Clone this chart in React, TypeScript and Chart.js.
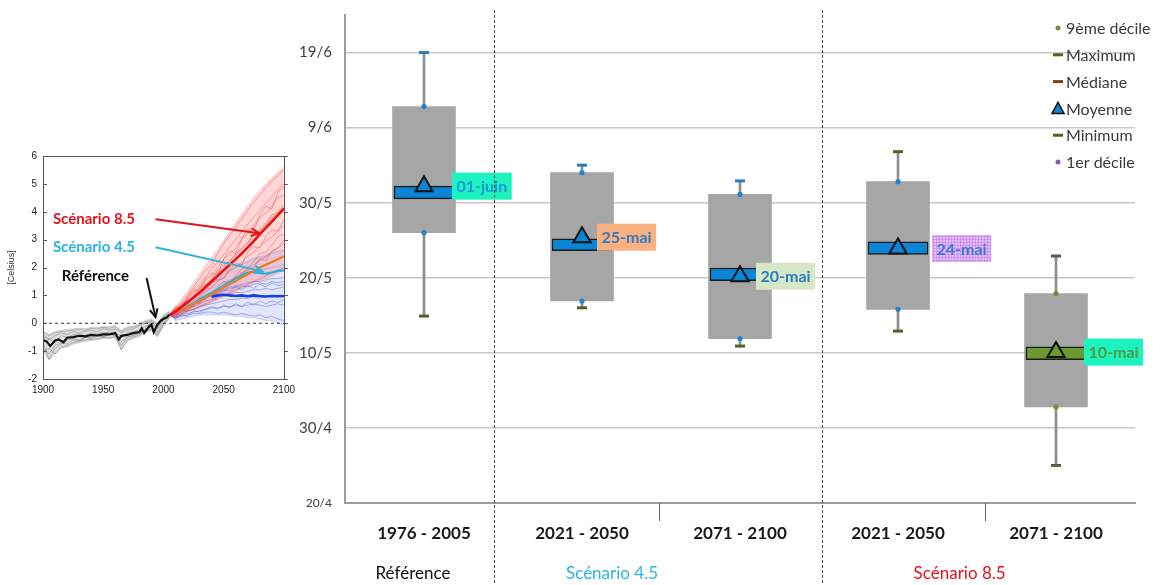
import React, { useEffect, useRef } from 'react';
import { Chart, registerables } from 'chart.js';

Chart.register(...registerables);

const FONT = 'Lato, "Open Sans", "Liberation Sans", sans-serif';

// ================= MAIN BOX CHART DATA =================
const categories = ['1976 - 2005', '2021 - 2050', '2071 - 2100', '2021 - 2050', '2071 - 2100'];
const groupNames = ['Référence', 'Scénario 4.5', 'Scénario 8.5'];
const groupColors = ['#111111', '#2bb5de', '#e2141b'];
const groupCenters = [-0.07, 1.19, 3.39]; // category units

// values as day of year
const minimum = [134.9, 136.0, 130.9, 132.9, 115.0];
const decile1 = [146.0, 136.9, 131.9, 135.8, 122.8];
const medianLow = [150.5, 143.6, 139.6, 143.1, 129.1];
const medianHigh = [152.2, 145.2, 141.3, 144.8, 130.8];
const mean = [152.2, 145.4, 140.2, 143.9, 130.1];
const decile9 = [162.8, 154.0, 151.1, 152.8, 137.9];
const maximum = [170.0, 155.0, 152.9, 156.8, 142.9];
const meanLabels = ['01-juin', '25-mai', '20-mai', '24-mai', '10-mai'];

const yTickValues = [110, 120, 130, 140, 150, 160, 170];
const yTickLabels = ['20/4', '30/4', '10/5', '20/5', '30/5', '9/6', '19/6'];

const bandColors = ['#0b86d6', '#0b86d6', '#0b86d6', '#0b86d6', '#6b9a31'];
const decileColors = ['#1f86cc', '#1f86cc', '#1f86cc', '#1f86cc', '#6f8f3a'];
const maxCapColors = ['#2a7cc0', '#2a7cc0', '#2a7cc0', '#4f6228', '#5a6040'];
const minCapColors = ['#4f6228', '#4f6228', '#4f6228', '#4f6228', '#5a6040'];
const labelBg = ['#1df2c1', '#fbb17f', '#d7e8c6', '#e4bdf7', '#1df2c1'];
const labelFg = ['#1f9ad6', '#2a7cc4', '#2a7cc4', '#3a7ad2', '#4f9a3a'];
const labelOffsets = [28, 15, 16, 34, 28];

const legendTexts = ['9ème décile', 'Maximum', 'Médiane', 'Moyenne', 'Minimum', '1er décile'];
const legendKinds = ['dot', 'dash', 'dash', 'tri', 'dash', 'dot'];
const legendColors = ['#76923c', '#4f6228', '#7f3f18', '#0b86d6', '#4f6228', '#8064a2'];

// ================= INSET DATA =================
const histYears = [1900, 1905, 1910, 1915, 1920, 1925, 1930, 1935, 1940, 1945, 1950, 1955, 1960, 1965, 1970, 1975, 1980, 1985, 1990, 1995, 2000, 2005];
const futYears = [2005, 2010, 2015, 2020, 2025, 2030, 2035, 2040, 2045, 2050, 2055, 2060, 2065, 2070, 2075, 2080, 2085, 2090, 2095, 2100];

const grayHi = [-0.3, -0.4, -0.3, -0.25, -0.22, -0.2, -0.18, -0.2, -0.15, -0.15, -0.12, -0.12, -0.1, -0.25, -0.12, -0.1, 0.0, 0.1, 0.15, 0.0, 0.3, 0.45];
const grayLo = [-1.0, -1.3, -1.1, -0.9, -0.85, -0.75, -0.7, -0.65, -0.62, -0.6, -0.55, -0.55, -0.52, -0.95, -0.65, -0.55, -0.48, -0.35, -0.25, -0.5, -0.1, 0.15];
const redHi = [0.3, 0.6, 0.85, 1.15, 1.45, 1.75, 2.05, 2.35, 2.65, 2.95, 3.3, 3.6, 3.9, 4.2, 4.5, 4.75, 5.0, 5.2, 5.4, 5.6];
const redLo = [0.3, 0.2, 0.3, 0.4, 0.48, 0.56, 0.65, 0.75, 0.85, 0.95, 1.05, 1.15, 1.25, 1.35, 1.45, 1.55, 1.6, 1.7, 1.8, 1.9];
const blueHi = [0.3, 0.5, 0.65, 0.85, 1.0, 1.15, 1.35, 1.5, 1.65, 1.8, 1.95, 2.05, 2.15, 2.25, 2.35, 2.4, 2.45, 2.55, 2.6, 2.65];
const blueLo = [0.3, 0.1, 0.15, 0.2, 0.25, 0.3, 0.3, 0.3, 0.3, 0.3, 0.3, 0.25, 0.25, 0.2, 0.2, 0.15, 0.1, 0.1, 0.0, -0.05];

const grayRuns = [
  [-0.9, -1.1, -0.8, -0.7, -0.75, -0.6, -0.65, -0.5, -0.55, -0.45, -0.5, -0.4, -0.45, -0.8, -0.5, -0.45, -0.35, -0.25, -0.1, -0.4, 0.0, 0.25],
  [-0.4, -0.6, -0.45, -0.35, -0.4, -0.3, -0.35, -0.3, -0.25, -0.3, -0.2, -0.25, -0.2, -0.35, -0.25, -0.2, -0.1, 0.0, 0.05, -0.15, 0.2, 0.35],
  [-0.7, -1.3, -0.9, -0.75, -0.6, -0.55, -0.6, -0.5, -0.5, -0.42, -0.48, -0.38, -0.42, -0.65, -0.52, -0.4, -0.38, -0.2, -0.15, -0.3, 0.1, 0.3],
  [-0.5, -0.55, -0.7, -0.45, -0.5, -0.42, -0.38, -0.45, -0.35, -0.38, -0.32, -0.35, -0.3, -0.5, -0.35, -0.3, -0.25, -0.12, 0.0, -0.2, 0.18, 0.32],
  [-1.0, -0.9, -1.1, -0.85, -0.8, -0.7, -0.62, -0.6, -0.58, -0.55, -0.5, -0.52, -0.48, -0.95, -0.6, -0.5, -0.42, -0.3, -0.2, -0.45, -0.05, 0.2],
  [-0.3, -0.45, -0.35, -0.3, -0.28, -0.25, -0.22, -0.25, -0.18, -0.2, -0.15, -0.18, -0.12, -0.3, -0.18, -0.15, -0.05, 0.05, 0.1, -0.05, 0.25, 0.4],
];

const redRuns = [
  [0.3, 0.5, 0.75, 1.0, 1.3, 1.6, 1.9, 2.1, 2.5, 2.85, 3.15, 3.45, 3.75, 4.05, 4.35, 4.6, 4.85, 5.1, 5.3, 5.5],
  [0.3, 0.45, 0.65, 0.9, 1.15, 1.4, 1.65, 1.95, 2.2, 2.45, 2.75, 3.0, 3.3, 3.55, 3.8, 4.05, 4.3, 4.55, 4.8, 5.0],
  [0.3, 0.4, 0.55, 0.75, 0.95, 1.15, 1.35, 1.6, 1.8, 2.0, 2.25, 2.45, 2.7, 2.9, 3.15, 3.35, 3.6, 3.8, 4.0, 4.25],
  [0.3, 0.35, 0.5, 0.65, 0.8, 0.95, 1.15, 1.3, 1.5, 1.65, 1.85, 2.0, 2.2, 2.4, 2.55, 2.75, 2.95, 3.1, 3.3, 3.5],
  [0.3, 0.3, 0.4, 0.5, 0.65, 0.8, 0.9, 1.05, 1.2, 1.35, 1.5, 1.65, 1.8, 1.95, 2.1, 2.25, 2.4, 2.55, 2.7, 2.85],
  [0.3, 0.25, 0.35, 0.45, 0.5, 0.6, 0.7, 0.8, 0.9, 1.0, 1.1, 1.2, 1.3, 1.4, 1.5, 1.6, 1.7, 1.8, 1.9, 2.0],
  [0.3, 0.55, 0.6, 0.85, 1.1, 1.25, 1.55, 1.7, 2.0, 2.3, 2.45, 2.7, 3.05, 3.2, 3.5, 3.8, 3.95, 4.2, 4.5, 4.6],
  [0.3, 0.4, 0.7, 0.8, 0.95, 1.3, 1.4, 1.55, 1.9, 2.1, 2.2, 2.5, 2.65, 2.85, 3.2, 3.3, 3.5, 3.9, 3.95, 4.1],
  [0.3, 0.6, 0.55, 0.95, 1.2, 1.15, 1.6, 1.8, 1.75, 2.3, 2.6, 2.5, 3.0, 3.4, 3.3, 3.9, 4.2, 4.1, 4.7, 4.9],
  [0.3, 0.2, 0.5, 0.4, 0.75, 0.7, 1.0, 1.1, 1.05, 1.4, 1.5, 1.45, 1.8, 1.9, 2.0, 2.3, 2.25, 2.6, 2.7, 3.0],
  [0.3, 0.5, 0.6, 0.7, 1.0, 1.05, 1.2, 1.45, 1.55, 1.6, 1.95, 2.15, 2.1, 2.55, 2.75, 2.7, 3.1, 3.35, 3.3, 3.7],
  [0.3, 0.3, 0.45, 0.6, 0.6, 0.9, 1.0, 0.95, 1.3, 1.5, 1.45, 1.7, 1.95, 2.0, 2.2, 2.5, 2.55, 2.8, 3.1, 3.2],
];

const blueRuns = [
  [0.3, 0.45, 0.6, 0.8, 0.95, 1.1, 1.3, 1.45, 1.6, 1.75, 1.9, 2.0, 2.1, 2.2, 2.3, 2.35, 2.4, 2.5, 2.55, 2.6],
  [0.3, 0.4, 0.55, 0.7, 0.85, 1.0, 1.1, 1.25, 1.35, 1.45, 1.55, 1.65, 1.7, 1.8, 1.85, 1.9, 1.95, 2.0, 2.05, 2.1],
  [0.3, 0.35, 0.5, 0.6, 0.7, 0.85, 0.95, 1.05, 1.15, 1.2, 1.3, 1.35, 1.4, 1.45, 1.5, 1.5, 1.55, 1.6, 1.6, 1.65],
  [0.3, 0.3, 0.4, 0.5, 0.6, 0.7, 0.8, 0.85, 0.95, 1.0, 1.05, 1.1, 1.1, 1.15, 1.2, 1.2, 1.25, 1.2, 1.25, 1.3],
  [0.3, 0.25, 0.35, 0.45, 0.5, 0.6, 0.65, 0.7, 0.75, 0.8, 0.85, 0.85, 0.9, 0.9, 0.95, 0.9, 0.95, 1.0, 0.95, 1.0],
  [0.3, 0.2, 0.3, 0.35, 0.4, 0.45, 0.5, 0.55, 0.55, 0.6, 0.6, 0.65, 0.6, 0.65, 0.7, 0.65, 0.6, 0.65, 0.7, 0.65],
  [0.3, 0.2, 0.25, 0.3, 0.35, 0.35, 0.4, 0.4, 0.35, 0.4, 0.35, 0.3, 0.35, 0.3, 0.25, 0.3, 0.2, 0.25, 0.15, 0.1],
  [0.3, 0.35, 0.45, 0.55, 0.7, 0.75, 0.9, 1.0, 1.1, 1.15, 1.25, 1.3, 1.35, 1.3, 1.4, 1.45, 1.4, 1.5, 1.45, 1.5],
  [0.3, 0.5, 0.45, 0.7, 0.65, 0.9, 0.85, 1.1, 1.0, 1.2, 1.15, 1.3, 1.2, 1.35, 1.25, 1.4, 1.3, 1.45, 1.35, 1.4],
  [0.3, 0.15, 0.3, 0.25, 0.45, 0.4, 0.5, 0.6, 0.5, 0.65, 0.55, 0.7, 0.6, 0.75, 0.65, 0.8, 0.7, 0.8, 0.75, 0.85],
];

const refYears = [1900, 1903, 1906, 1910, 1913, 1917, 1920, 1925, 1930, 1935, 1940, 1945, 1950, 1955, 1960, 1963, 1965, 1970, 1975, 1980, 1982, 1984, 1988, 1990, 1992, 1995, 1998, 2000, 2003, 2005];
const refMean = [-0.6, -0.65, -0.82, -0.62, -0.58, -0.68, -0.52, -0.5, -0.45, -0.47, -0.42, -0.44, -0.4, -0.4, -0.36, -0.58, -0.45, -0.42, -0.35, -0.32, -0.18, -0.35, -0.12, -0.05, -0.32, -0.05, 0.1, 0.15, 0.22, 0.3];
const rcp85Mean = [0.3, 0.42, 0.58, 0.75, 0.92, 1.1, 1.3, 1.5, 1.7, 1.9, 2.1, 2.3, 2.5, 2.72, 2.95, 3.2, 3.42, 3.65, 3.88, 4.12];
const orangeYears = [2010, 2015, 2020, 2025, 2030, 2035, 2040, 2045, 2050, 2055, 2060, 2065, 2070, 2075, 2080, 2085, 2090, 2095, 2100];
const orangeMean = [0.38, 0.48, 0.58, 0.68, 0.8, 0.92, 1.04, 1.16, 1.28, 1.4, 1.52, 1.64, 1.76, 1.88, 2.0, 2.1, 2.2, 2.3, 2.4];
const cyanYears = [2015, 2020, 2025, 2030, 2035, 2040, 2045, 2050, 2055, 2060, 2065, 2070, 2075, 2080, 2085, 2090, 2095, 2100];
const cyanMean = [0.45, 0.6, 0.72, 0.85, 0.98, 1.1, 1.22, 1.35, 1.48, 1.6, 1.72, 1.82, 1.85, 1.8, 1.78, 1.82, 1.88, 1.9];
const blueYears = [2040, 2045, 2050, 2055, 2060, 2065, 2070, 2075, 2080, 2085, 2090, 2095, 2100];
const blueMean = [0.95, 1.0, 1.02, 1.0, 0.98, 1.0, 0.97, 1.0, 0.98, 0.96, 0.98, 0.97, 0.98];
const zeroYears = [1900, 2100];
const zeroLine = [0, 0];

const annotTexts = ['Scénario 8.5', 'Scénario 4.5', 'Référence'];
const annotColors = ['#e0141c', '#2cb4de', '#111111'];
const annotAt = [[1908.2, 3.73], [1908.2, 2.73], [1915.6, 1.7]];
const arrowFrom = [[1993.4, 3.73], [1993.4, 2.73], [1986, 1.62]];
const arrowTo = [[2079.5, 3.23], [2082, 1.87], [1993.4, 0.22]];

// ================= PLUGINS =================
function drawArrow(ctx: CanvasRenderingContext2D, x1: number, y1: number, x2: number, y2: number, color: string) {
  ctx.strokeStyle = color;
  ctx.lineWidth = 2;
  ctx.beginPath();
  ctx.moveTo(x1, y1);
  ctx.lineTo(x2, y2);
  ctx.stroke();
  const a = Math.atan2(y2 - y1, x2 - x1);
  const L = 9;
  ctx.beginPath();
  ctx.moveTo(x2 - L * Math.cos(a - 0.45), y2 - L * Math.sin(a - 0.45));
  ctx.lineTo(x2, y2);
  ctx.lineTo(x2 - L * Math.cos(a + 0.45), y2 - L * Math.sin(a + 0.45));
  ctx.stroke();
}

const mainDecor = {
  id: 'mainDecor',
  afterDatasetsDraw(chart: any) {
    const ctx = chart.ctx as CanvasRenderingContext2D;
    const xs = chart.scales.x;
    const ys = chart.scales.y;
    ctx.save();
    ctx.font = `bold 16px ${FONT}`;
    ctx.textBaseline = 'middle';
    ctx.textAlign = 'left';
    meanLabels.forEach((t, i) => {
      const x = xs.getPixelForValue(i) + labelOffsets[i];
      const y = ys.getPixelForValue(mean[i]);
      const w = ctx.measureText(t).width + 9;
      const h = 27;
      ctx.fillStyle = labelBg[i];
      ctx.fillRect(x, y - h / 2, w, h);
      if (i === 3) {
        ctx.strokeStyle = 'rgba(190,120,235,0.55)';
        ctx.lineWidth = 1;
        for (let gx = x + 1.5; gx < x + w; gx += 3) {
          ctx.beginPath(); ctx.moveTo(gx, y - h / 2); ctx.lineTo(gx, y + h / 2); ctx.stroke();
        }
        for (let gy = y - h / 2 + 1.5; gy < y + h / 2; gy += 3) {
          ctx.beginPath(); ctx.moveTo(x, gy); ctx.lineTo(x + w, gy); ctx.stroke();
        }
      }
      ctx.fillStyle = labelFg[i];
      ctx.fillText(t, x + 4.5, y + 1);
    });
    ctx.restore();
  },
  afterDraw(chart: any) {
    const ctx = chart.ctx as CanvasRenderingContext2D;
    const xs = chart.scales.x;
    const area = chart.chartArea;
    ctx.save();
    ctx.strokeStyle = '#444';
    ctx.lineWidth = 1;
    ctx.setLineDash([3, 2]);
    [0.44, 2.52].forEach((c) => {
      const x = Math.round(xs.getPixelForValue(c)) + 0.5;
      ctx.beginPath(); ctx.moveTo(x, 10); ctx.lineTo(x, chart.height); ctx.stroke();
    });
    ctx.setLineDash([]);
    ctx.strokeStyle = '#666';
    [1.49, 3.55].forEach((c) => {
      const x = Math.round(xs.getPixelForValue(c)) + 0.5;
      ctx.beginPath(); ctx.moveTo(x, area.bottom); ctx.lineTo(x, area.bottom + 18); ctx.stroke();
    });
    ctx.font = `17px ${FONT}`;
    ctx.textAlign = 'center';
    ctx.textBaseline = 'middle';
    groupNames.forEach((g, i) => {
      ctx.fillStyle = groupColors[i];
      ctx.fillText(g, xs.getPixelForValue(groupCenters[i]), 574);
    });
    ctx.font = `16px ${FONT}`;
    ctx.textAlign = 'left';
    legendTexts.forEach((t, i) => {
      const y = 28 + i * 26.8;
      const mx = 1058;
      ctx.fillStyle = legendColors[i];
      if (legendKinds[i] === 'dot') {
        ctx.beginPath(); ctx.arc(mx, y, 2.5, 0, Math.PI * 2); ctx.fill();
      } else if (legendKinds[i] === 'dash') {
        ctx.fillRect(mx - 5, y - 1.5, 10, 3);
      } else {
        ctx.beginPath();
        ctx.moveTo(mx, y - 6); ctx.lineTo(mx + 6, y + 5); ctx.lineTo(mx - 6, y + 5); ctx.closePath();
        ctx.fill();
        ctx.strokeStyle = '#111'; ctx.lineWidth = 1.5; ctx.stroke();
      }
      ctx.fillStyle = '#3a3a3a';
      ctx.fillText(t, 1066, y + 1);
    });
    ctx.restore();
  },
};

const insetDecor = {
  id: 'insetDecor',
  afterDatasetsDraw(chart: any) {
    const ctx = chart.ctx as CanvasRenderingContext2D;
    const xs = chart.scales.x;
    const ys = chart.scales.y;
    const a = chart.chartArea;
    ctx.save();
    ctx.strokeStyle = '#555';
    ctx.lineWidth = 1;
    ctx.strokeRect(Math.round(a.left) + 0.5, Math.round(a.top) + 0.5, Math.round(a.right - a.left), Math.round(a.bottom - a.top));
    for (let v = -2; v <= 6; v++) {
      const y = Math.round(ys.getPixelForValue(v)) + 0.5;
      ctx.beginPath(); ctx.moveTo(a.left, y); ctx.lineTo(a.left + 4, y); ctx.stroke();
      ctx.beginPath(); ctx.moveTo(a.right, y); ctx.lineTo(a.right + 4, y); ctx.stroke();
    }
    annotTexts.forEach((t, i) => {
      drawArrow(ctx, xs.getPixelForValue(arrowFrom[i][0]), ys.getPixelForValue(arrowFrom[i][1]),
        xs.getPixelForValue(arrowTo[i][0]), ys.getPixelForValue(arrowTo[i][1]), annotColors[i]);
    });
    ctx.font = `bold 15px ${FONT}`;
    ctx.textAlign = 'left';
    ctx.textBaseline = 'middle';
    annotTexts.forEach((t, i) => {
      ctx.fillStyle = annotColors[i];
      ctx.fillText(t, xs.getPixelForValue(annotAt[i][0]), ys.getPixelForValue(annotAt[i][1]));
    });
    ctx.restore();
  },
};

function mainConfig(): any {
  return {
    type: 'bar',
    data: {
      labels: categories,
      datasets: [
        { type: 'bar', label: 'Étendue', data: minimum.map((v, i) => [v, maximum[i]]), backgroundColor: '#8f8f8f', barThickness: 2, grouped: false, order: 7 },
        { type: 'bar', label: 'Déciles', data: decile1.map((v, i) => [v, decile9[i]]), backgroundColor: '#a6a6a6', barThickness: 63, grouped: false, order: 6 },
        { type: 'line', label: '9ème décile', data: decile9, showLine: false, pointStyle: 'circle', pointRadius: 2.6, pointBorderWidth: 0, pointBackgroundColor: decileColors, pointBorderColor: decileColors, order: 4 },
        { type: 'line', label: '1er décile', data: decile1, showLine: false, pointStyle: 'circle', pointRadius: 2.6, pointBorderWidth: 0, pointBackgroundColor: decileColors, pointBorderColor: decileColors, order: 4 },
        { type: 'line', label: 'Maximum', data: maximum, showLine: false, pointStyle: 'line', pointRadius: 5, pointBorderWidth: 3, pointBorderColor: maxCapColors, order: 3 },
        { type: 'line', label: 'Minimum', data: minimum, showLine: false, pointStyle: 'line', pointRadius: 5, pointBorderWidth: 3, pointBorderColor: minCapColors, order: 3 },
        { type: 'bar', label: 'Médiane', data: medianLow.map((v, i) => [v, medianHigh[i]]), backgroundColor: bandColors, borderColor: '#1b1b1b', borderWidth: 1.5, borderSkipped: false, barThickness: 60, grouped: false, order: 2 },
        { type: 'line', label: 'Moyenne', data: mean, showLine: false, pointStyle: 'triangle', pointRadius: 10, pointBackgroundColor: bandColors, pointBorderColor: '#111', pointBorderWidth: 2, order: 1 },
      ],
    },
    options: {
      responsive: false,
      animation: false,
      devicePixelRatio: 1,
      events: [],
      layout: { padding: { left: 290, top: 15, right: 28, bottom: 0 } },
      plugins: { legend: { display: false }, tooltip: { enabled: false } },
      scales: {
        x: {
          grid: { display: false, drawTicks: false },
          border: { color: '#9b9b9b', width: 2 },
          ticks: { font: { family: FONT, size: 17, weight: 'bold' }, color: '#1a1a1a', padding: 20, autoSkip: false, maxRotation: 0 },
          afterFit: (s: any) => { s.height = 82; s.paddingLeft = 0; s.paddingRight = 0; },
        },
        y: {
          min: 110,
          max: 175,
          grid: { color: '#c8c8c8', lineWidth: 1.5, drawTicks: false },
          border: { color: '#9b9b9b', width: 2 },
          ticks: {
            stepSize: 10,
            includeBounds: false,
            padding: 13,
            color: '#404040',
            font: (c: any) => ({ family: FONT, size: c.tick && c.tick.value === 110 ? 12 : 15 }),
            callback: (v: any) => {
              const k = yTickValues.indexOf(Number(v));
              return k >= 0 ? yTickLabels[k] : '';
            },
          },
          afterFit: (s: any) => { s.width = 55; s.paddingTop = 0; s.paddingBottom = 0; },
        },
      },
    },
    plugins: [mainDecor],
  };
}

function insetConfig(): any {
  const ds: any[] = [];
  const add = (xs: number[], ys: number[], color: string, width: number, order: number, extra?: any) => {
    ds.push(Object.assign({
      type: 'line',
      data: xs.map((x, i) => ({ x, y: ys[i] })),
      borderColor: color,
      borderWidth: width,
      pointRadius: 0,
      fill: false,
      order,
    }, extra || {}));
    return ds.length - 1;
  };
  add(refYears, refMean, '#111111', 2.2, 1);
  add(futYears, rcp85Mean, '#f01010', 2.6, 1);
  add(orangeYears, orangeMean, '#f07a20', 2.2, 1);
  add(cyanYears, cyanMean, '#25b0e0', 2.2, 1);
  add(blueYears, blueMean, '#1a3de0', 2.6, 1);
  add(zeroYears, zeroLine, '#333333', 1, 5, { borderDash: [3, 3] });
  redRuns.forEach((r) => add(futYears, r, 'rgba(245,45,45,0.42)', 1, 10));
  blueRuns.forEach((r, i) => add(futYears, r, i < 2 ? 'rgba(110,170,240,0.5)' : 'rgba(60,80,225,0.42)', 1, 11));
  grayRuns.forEach((r) => add(histYears, r, 'rgba(100,100,100,0.4)', 1, 10));
  const rLo = add(futYears, redLo, 'rgba(245,80,80,0.35)', 0.8, 20);
  add(futYears, redHi, 'rgba(245,80,80,0.35)', 0.8, 20, { fill: { target: rLo }, backgroundColor: 'rgba(255,120,120,0.3)' });
  const bLo = add(futYears, blueLo, 'rgba(80,100,230,0.35)', 0.8, 21);
  add(futYears, blueHi, 'rgba(110,160,240,0.35)', 0.8, 21, { fill: { target: bLo }, backgroundColor: 'rgba(120,140,235,0.22)' });
  const gLo = add(histYears, grayLo, 'rgba(120,120,120,0.35)', 0.8, 20);
  add(histYears, grayHi, 'rgba(120,120,120,0.35)', 0.8, 20, { fill: { target: gLo }, backgroundColor: 'rgba(150,150,150,0.3)' });
  return {
    type: 'line',
    data: { datasets: ds },
    options: {
      responsive: false,
      animation: false,
      devicePixelRatio: 1,
      events: [],
      layout: { padding: { left: 0, top: 16, right: 13, bottom: 0 } },
      plugins: { legend: { display: false }, tooltip: { enabled: false }, filler: { propagate: false } },
      scales: {
        x: {
          type: 'linear',
          min: 1900,
          max: 2100,
          grid: { display: false, drawTicks: false },
          border: { display: false },
          ticks: { stepSize: 50, font: { family: '"Liberation Sans", Arial, sans-serif', size: 10 }, color: '#222', padding: 5, maxRotation: 0, callback: (v: any) => String(v) },
          afterFit: (s: any) => { s.height = 21; },
        },
        y: {
          min: -2,
          max: 6,
          grid: { display: false, drawTicks: false },
          border: { display: false },
          ticks: { stepSize: 1, font: { family: '"Liberation Sans", Arial, sans-serif', size: 10 }, color: '#222', padding: 6, callback: (v: any) => String(v) },
          title: { display: true, text: '[Celsius]', color: '#333', font: { family: '"Liberation Sans", Arial, sans-serif', size: 9 }, padding: { top: 6, bottom: 0 } },
          afterFit: (s: any) => { s.width = 43; },
        },
      },
    },
    plugins: [insetDecor],
  };
}

export default function App() {
  const mainRef = useRef<HTMLCanvasElement | null>(null);
  const insetRef = useRef<HTMLCanvasElement | null>(null);

  useEffect(() => {
    const main = new Chart(mainRef.current as HTMLCanvasElement, mainConfig());
    const inset = new Chart(insetRef.current as HTMLCanvasElement, insetConfig());
    return () => {
      main.destroy();
      inset.destroy();
    };
  }, []);

  return (
    <div style={{ position: 'absolute', left: 0, top: 0, width: 1163, height: 585, background: '#fff', overflow: 'hidden' }}>
      <canvas ref={mainRef} width={1163} height={585} style={{ position: 'absolute', left: 0, top: 0 }} />
      <canvas ref={insetRef} width={300} height={260} style={{ position: 'absolute', left: 0, top: 140 }} />
    </div>
  );
}
